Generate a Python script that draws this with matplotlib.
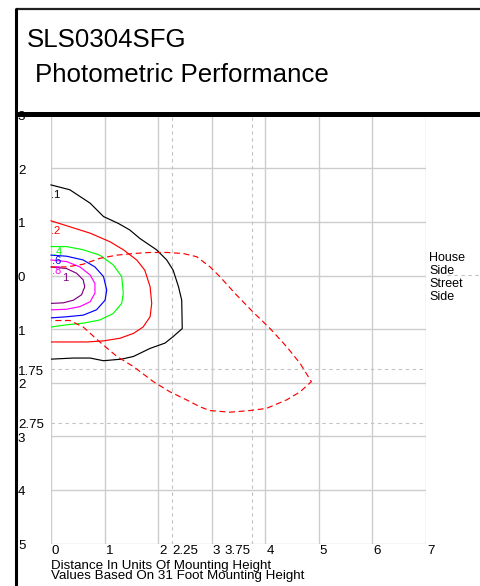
import matplotlib
matplotlib.use("Agg")
import matplotlib.pyplot as plt
import matplotlib.transforms as mtransforms
import numpy as np

plt.rcParams['font.family'] = ['Liberation Sans', 'DejaVu Sans']
plt.rcParams['lines.scale_dashes'] = False

# ---------------- data ----------------
title_main = "SLS0304SFG"
title_sub = "Photometric Performance"
x_label_1 = "Distance In Units Of Mounting Height"
x_label_2 = "Values Based On 31 Foot Mounting Height"
side_labels = ["House", "Side", "Street", "Side"]

x_grid = [0, 1, 2, 3, 4, 5, 6, 7]
y_grid = [3, 2, 1, 0, -1, -2, -3, -4, -5]
x_dashed = [2.25, 3.75]
y_dashed = [-1.75, -2.75]

x_tick_vals = [0, 1, 2, 2.25, 3, 3.75, 4, 5, 6, 7]
x_tick_text = ["0", "1", "2", "2.25", "3", "3.75", "4", "5", "6", "7"]
x_tick_align = ["left", "left", "left", "left", "left", "right", "left", "left", "left", "left"]
y_tick_vals = [3, 2, 1, 0, -1, -1.75, -2, -2.75, -3, -4, -5]
y_tick_text = ["3", "2", "1", "0", "1", "1.75", "2", "2.75", "3", "4", "5"]

# iso-footcandle contours (x, y in mounting heights)
c01_x = [0.00, 0.35, 0.73, 0.98, 1.26, 1.47, 1.66, 1.97, 2.16, 2.28, 2.38, 2.44, 2.45,
         2.28, 2.13, 1.85, 1.54, 1.32, 0.98, 0.73, 0.42, 0.01]
c01_y = [1.69, 1.60, 1.35, 1.10, 0.97, 0.85, 0.69, 0.48, 0.29, 0.10, -0.21, -0.46, -0.99,
         -1.14, -1.26, -1.36, -1.51, -1.56, -1.59, -1.54, -1.54, -1.56]
c02_x = [0.00, 0.35, 0.73, 1.10, 1.35, 1.60, 1.75, 1.85, 1.88, 1.85, 1.72, 1.54, 1.29,
         0.98, 0.67, 0.01]
c02_y = [1.02, 0.91, 0.79, 0.63, 0.48, 0.29, 0.10, -0.21, -0.52, -0.77, -0.96, -1.08,
         -1.17, -1.22, -1.24, -1.24]
c04_x = [0.00, 0.29, 0.60, 0.91, 1.16, 1.32, 1.35, 1.32, 1.16, 0.91, 0.60, 0.29, 0.01]
c04_y = [0.54, 0.54, 0.48, 0.38, 0.20, -0.02, -0.33, -0.52, -0.71, -0.83, -0.89, -0.92, -0.96]
c06_x = [0.00, 0.29, 0.60, 0.82, 0.98, 1.04, 1.01, 0.85, 0.60, 0.29, 0.01]
c06_y = [0.38, 0.36, 0.29, 0.16, -0.02, -0.27, -0.46, -0.64, -0.74, -0.77, -0.79]
c08_x = [0.00, 0.29, 0.54, 0.73, 0.82, 0.82, 0.73, 0.54, 0.29, 0.01]
c08_y = [0.29, 0.26, 0.16, 0.01, -0.15, -0.33, -0.49, -0.58, -0.63, -0.64]
c10_x = [0.00, 0.29, 0.48, 0.60, 0.63, 0.57, 0.42, 0.23, 0.01]
c10_y = [0.16, 0.13, 0.04, -0.08, -0.21, -0.36, -0.46, -0.51, -0.52]

contour_x = [c01_x, c02_x, c04_x, c06_x, c08_x, c10_x]
contour_y = [c01_y, c02_y, c04_y, c06_y, c08_y, c10_y]
contour_colors = ["#000000", "#ff0000", "#00ff00", "#0000ff", "#ff00ff", "#800080"]
contour_labels = [".1", ".2", ".4", ".6", ".8", "1"]
label_x = [0.00, 0.00, 0.04, 0.02, 0.02, 0.21]
label_y = [1.45, 0.77, 0.38, 0.22, 0.03, -0.10]

# dashed trace
trace_x = [0.00, 0.29, 0.60, 0.91, 1.23, 1.54, 1.85, 2.16, 2.47, 2.72, 2.97, 3.15, 3.46,
           3.77, 4.09, 4.40, 4.65, 4.86, 4.65, 4.40, 4.02, 3.71, 3.34, 2.97, 2.78, 2.53,
           2.22, 1.91, 1.54, 1.23, 0.91, 0.60, 0.35, 0.01]
trace_y = [0.16, 0.16, 0.21, 0.32, 0.38, 0.41, 0.43, 0.43, 0.41, 0.35, 0.16, -0.02, -0.36,
           -0.68, -0.99, -1.33, -1.64, -1.98, -2.17, -2.32, -2.48, -2.52, -2.55, -2.52,
           -2.45, -2.32, -2.17, -1.98, -1.70, -1.51, -1.24, -0.96, -0.84, -0.84]

# ---------------- figure ----------------
W, H = 481, 586
fig = plt.figure(figsize=(W / 100, H / 100), dpi=100)
fig.patch.set_facecolor("white")

left_px, right_px, top_px, bot_px = 51, 426, 114.7, 543.5
ax = fig.add_axes([left_px / W, (H - bot_px) / H, (right_px - left_px) / W, (bot_px - top_px) / H])
ax.set_xlim(0, 7)
ax.set_ylim(-5, 3)
ax.axis("off")

grid_c = "#cdcdcd"
for xv in x_grid:
    ax.plot([xv, xv], [-5, 3], color=grid_c, lw=1.0, zorder=1, solid_capstyle="butt")
for yv in y_grid:
    ax.plot([0, 7], [yv, yv], color=grid_c, lw=1.0, zorder=1, solid_capstyle="butt")
for xv in x_dashed:
    ax.plot([xv, xv], [-5, 3], color="#c4c4c4", lw=0.8, dashes=(2.5, 2.5), zorder=1)
for yv in y_dashed:
    ax.plot([0, 7], [yv, yv], color="#c4c4c4", lw=0.8, dashes=(2.5, 2.5), zorder=1)

for cx, cy, col in zip(contour_x, contour_y, contour_colors):
    ax.plot(cx, cy, color=col, lw=0.85, zorder=3, clip_on=False)

ax.plot(trace_x, trace_y, color="#ff0000", lw=0.85, dashes=(4.3, 2.6), zorder=3)

for lx, ly, txt, col in zip(label_x, label_y, contour_labels, contour_colors):
    ax.text(lx, ly, txt, color=col, fontsize=8.0, ha="left", va="baseline", zorder=4)

# tick labels
fs_tick = 9.6
blend_y = mtransforms.blended_transform_factory(fig.transFigure, ax.transData)
ytr = mtransforms.offset_copy(blend_y, fig=fig, x=0, y=-2.5, units="dots")
for yv, t in zip(y_tick_vals, y_tick_text):
    ax.text(18 / W, yv, t, transform=ytr, fontsize=fs_tick, ha="left", va="center",
            color="black", zorder=5)
xtr_l = mtransforms.offset_copy(ax.transData, fig=fig, x=1, y=-1.5, units="dots")
xtr_r = mtransforms.offset_copy(ax.transData, fig=fig, x=-1, y=-1.5, units="dots")
for xv, t, al in zip(x_tick_vals, x_tick_text, x_tick_align):
    ax.text(xv, -5, t, transform=(xtr_l if al == "left" else xtr_r), fontsize=fs_tick,
            ha=al, va="top", color="black", zorder=5)

# ---------------- overlay in pixel coordinates (frame & titles) ----------------
ov = fig.add_axes([0, 0, 1, 1], zorder=10)
ov.set_xlim(0, W)
ov.set_ylim(H, 0)
ov.axis("off")
ov.patch.set_alpha(0)

ov.plot([16, W + 2], [8.5, 8.5], color="#202020", lw=1.6, solid_capstyle="butt")
ov.plot([16.5, 16.5], [7.5, H + 2], color="black", lw=2.2, solid_capstyle="butt")
ov.plot([16, W + 2], [114, 114], color="black", lw=3.6, solid_capstyle="butt")

ov.text(27, 47, title_main, fontsize=18.6, ha="left", va="baseline", color="black")
ov.text(35, 82, title_sub, fontsize=18.6, ha="left", va="baseline", color="black")

ov.text(51, 569, x_label_1, fontsize=fs_tick, ha="left", va="baseline", color="black")
ov.text(51, 579.5, x_label_2, fontsize=fs_tick, ha="left", va="baseline", color="black")

for i, t in enumerate(side_labels):
    ov.text(429, 261 + 13 * i, t, fontsize=9.0, ha="left", va="baseline", color="black")

ov.plot([447, W + 2], [274.5, 274.5], color="#c4c4c4", lw=0.8, dashes=(2.5, 2.5))

fig.savefig("out.png", dpi=100, facecolor="white")
